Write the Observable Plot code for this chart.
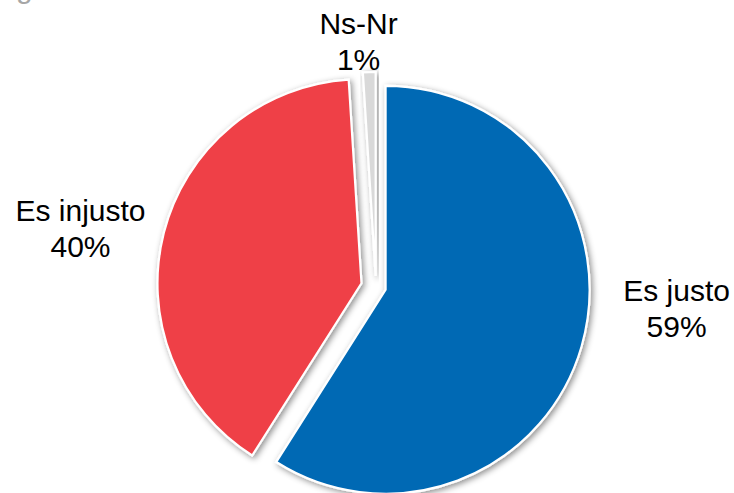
<!DOCTYPE html>
<html>
<head>
<meta charset="utf-8">
<script src="https://cdn.jsdelivr.net/npm/d3@7"></script>
<script src="https://cdn.jsdelivr.net/npm/@observablehq/plot@0.6"></script>
<style>
  html, body { margin: 0; padding: 0; background: #fff; }
  #wrap { position: relative; width: 734px; height: 493px; overflow: hidden; }
  #cut { position: absolute; left: 16px; top: -29px; font: 30px "Liberation Sans", Arial, sans-serif; color: #a6a6a6; }
</style>
</head>
<body>
<div id="wrap"><div id="cut">g</div><div id="chart"></div></div>
<script>
// Data
const categories = ["Es justo", "Es injusto", "Ns-Nr"];
const values = [59, 40, 1];
const pctLabels = ["59%", "40%", "1%"];
const colors = ["#0069b4", "#ef4146", "#d9d9d9"];

// Layout (unit = pie radius)
const explode = [0.049, 0.0735, 0.054];
const labelX = [1.471, -1.451, -0.088];
const labelY = [-0.098, 0.294, 1.211];

const W = 734, H = 493, R = 204, CX = 376, CY = 287;

const rows = categories.map((c, i) => ({
  category: c, value: values[i], pct: pctLabels[i], color: colors[i],
  explode: explode[i], lx: labelX[i], ly: labelY[i],
  label: c + "\n" + pctLabels[i]
}));

const arcs = d3.pie().sort(null).value(d => d.value)(rows);

function pieMark(index, scales) {
  const sx = scales.x, sy = scales.y;
  const r = sx(1) - sx(0);
  const svg = d3.create("svg:g");
  const defs = svg.append("defs");
  const f = defs.append("filter").attr("id", "shadow")
    .attr("x", "-20%").attr("y", "-20%").attr("width", "140%").attr("height", "140%");
  f.append("feDropShadow").attr("dx", 2).attr("dy", 2).attr("stdDeviation", 3)
    .attr("flood-color", "#000").attr("flood-opacity", 0.45);
  const arcGen = d3.arc().innerRadius(0).outerRadius(r);
  for (const a of arcs) {
    const mid = (a.startAngle + a.endAngle) / 2;
    const ux = Math.sin(mid) * a.data.explode;
    const uy = Math.cos(mid) * a.data.explode;
    const px = sx(ux), py = sy(uy);
    svg.append("path")
      .attr("d", arcGen(a))
      .attr("transform", `translate(${px},${py})`)
      .attr("fill", a.data.color)
      .attr("stroke", "#fff")
      .attr("stroke-width", 2.2)
      .attr("stroke-linejoin", "miter")
      .attr("filter", "url(#shadow)");
  }
  return svg.node();
}

const chart = Plot.plot({
  width: W,
  height: H,
  margin: 0,
  x: { domain: [-CX / R, (W - CX) / R], range: [0, W], axis: null },
  y: { domain: [(CY - H) / R, CY / R], range: [H, 0], axis: null },
  style: { background: "transparent", overflow: "visible" },
  marks: [
    pieMark,
    Plot.text(rows, {
      x: "lx", y: "ly", text: "label",
      fontSize: 30, lineHeight: 1.2,
      fontFamily: "Liberation Sans, Arial, sans-serif",
      fill: "#000", textAnchor: "middle"
    })
  ]
});
document.getElementById("chart").appendChild(chart);
</script>
</body>
</html>
